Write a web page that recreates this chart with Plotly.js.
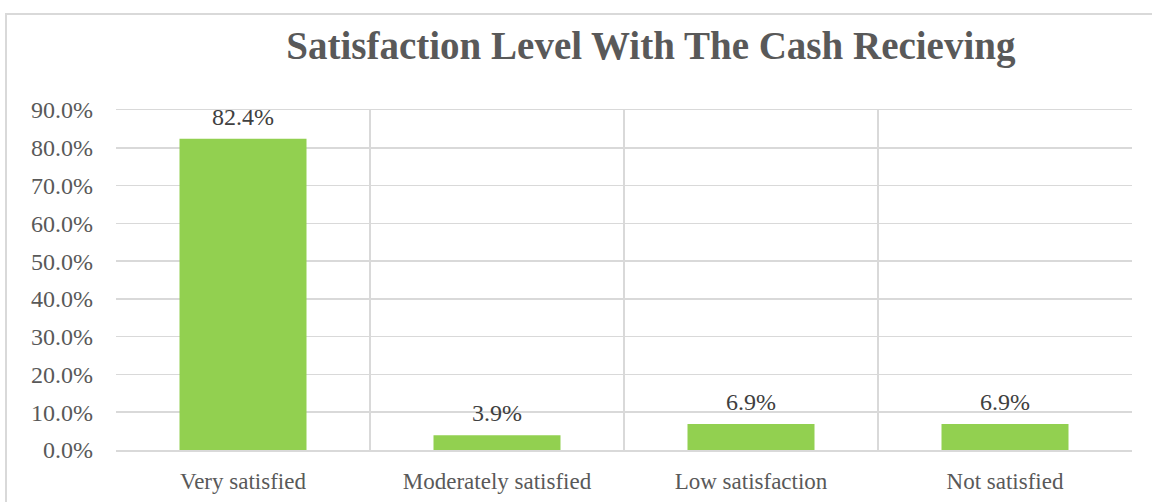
<!DOCTYPE html>
<html>
<head>
<meta charset="utf-8">
<script src="https://cdn.plot.ly/plotly-3.0.1.min.js"></script>
<style>
html,body{margin:0;padding:0;background:#fff;}
#frame{position:absolute;left:5px;top:13px;width:1147px;height:489px;border-left:2px solid #d9d9d9;border-top:2px solid #d9d9d9;box-sizing:border-box;}
#chart{position:absolute;left:0;top:0;width:1152px;height:502px;}
</style>
</head>
<body>
<div id="frame"></div>
<div id="chart"></div>
<script>
var categories = ["Very satisfied", "Moderately satisfied", "Low satisfaction", "Not satisfied"];
var shares = [0.824, 0.039, 0.069, 0.069];
var titleText = "Satisfaction Level With The Cash Recieving";

var FONT = "Liberation Serif";

var trace = {
  type: "bar",
  x: categories,
  y: shares,
  width: 0.5,
  marker: {color: "#92D050", line: {width: 0}},
  hoverinfo: "skip"
};

var annotations = categories.map(function (c, i) {
  return {
    x: c, y: shares[i], xref: "x", yref: "y",
    text: (shares[i] * 100).toFixed(1) + "%",
    showarrow: false, yanchor: "bottom", yshift: 7,
    font: {family: FONT, size: 24, color: "#404040"}
  };
});

var layout = {
  width: 1152,
  height: 502,
  paper_bgcolor: "rgba(0,0,0,0)",
  plot_bgcolor: "rgba(0,0,0,0)",
  margin: {l: 116, r: 20, t: 110, b: 52},
  showlegend: false,
  annotations: annotations,
  title: {
    text: "<b>" + titleText + "</b>",
    x: 0.565, xanchor: "center",
    y: 0.91, yanchor: "middle",
    font: {family: FONT, size: 39, color: "#595959"}
  },
  xaxis: {
    type: "category",
    tickson: "boundaries",
    showgrid: true,
    gridcolor: "#d9d9d9",
    gridwidth: 1.5,
    ticks: "",
    showline: true,
    linecolor: "#d9d9d9",
    linewidth: 1.5,
    mirror: true,
    ticklabelstandoff: 10,
    tickfont: {family: FONT, size: 23, color: "#595959"},
    fixedrange: true
  },
  yaxis: {
    range: [0, 0.9],
    dtick: 0.1,
    tick0: 0,
    tickformat: ".1%",
    showgrid: true,
    gridcolor: "#d9d9d9",
    gridwidth: 1.5,
    zeroline: false,
    ticks: "",
    ticklabelstandoff: 22,
    tickfont: {family: FONT, size: 24, color: "#595959"},
    fixedrange: true
  },
  bargap: 0.5
};

Plotly.newPlot("chart", [trace], layout, {displayModeBar: false, staticPlot: true});
</script>
</body>
</html>
